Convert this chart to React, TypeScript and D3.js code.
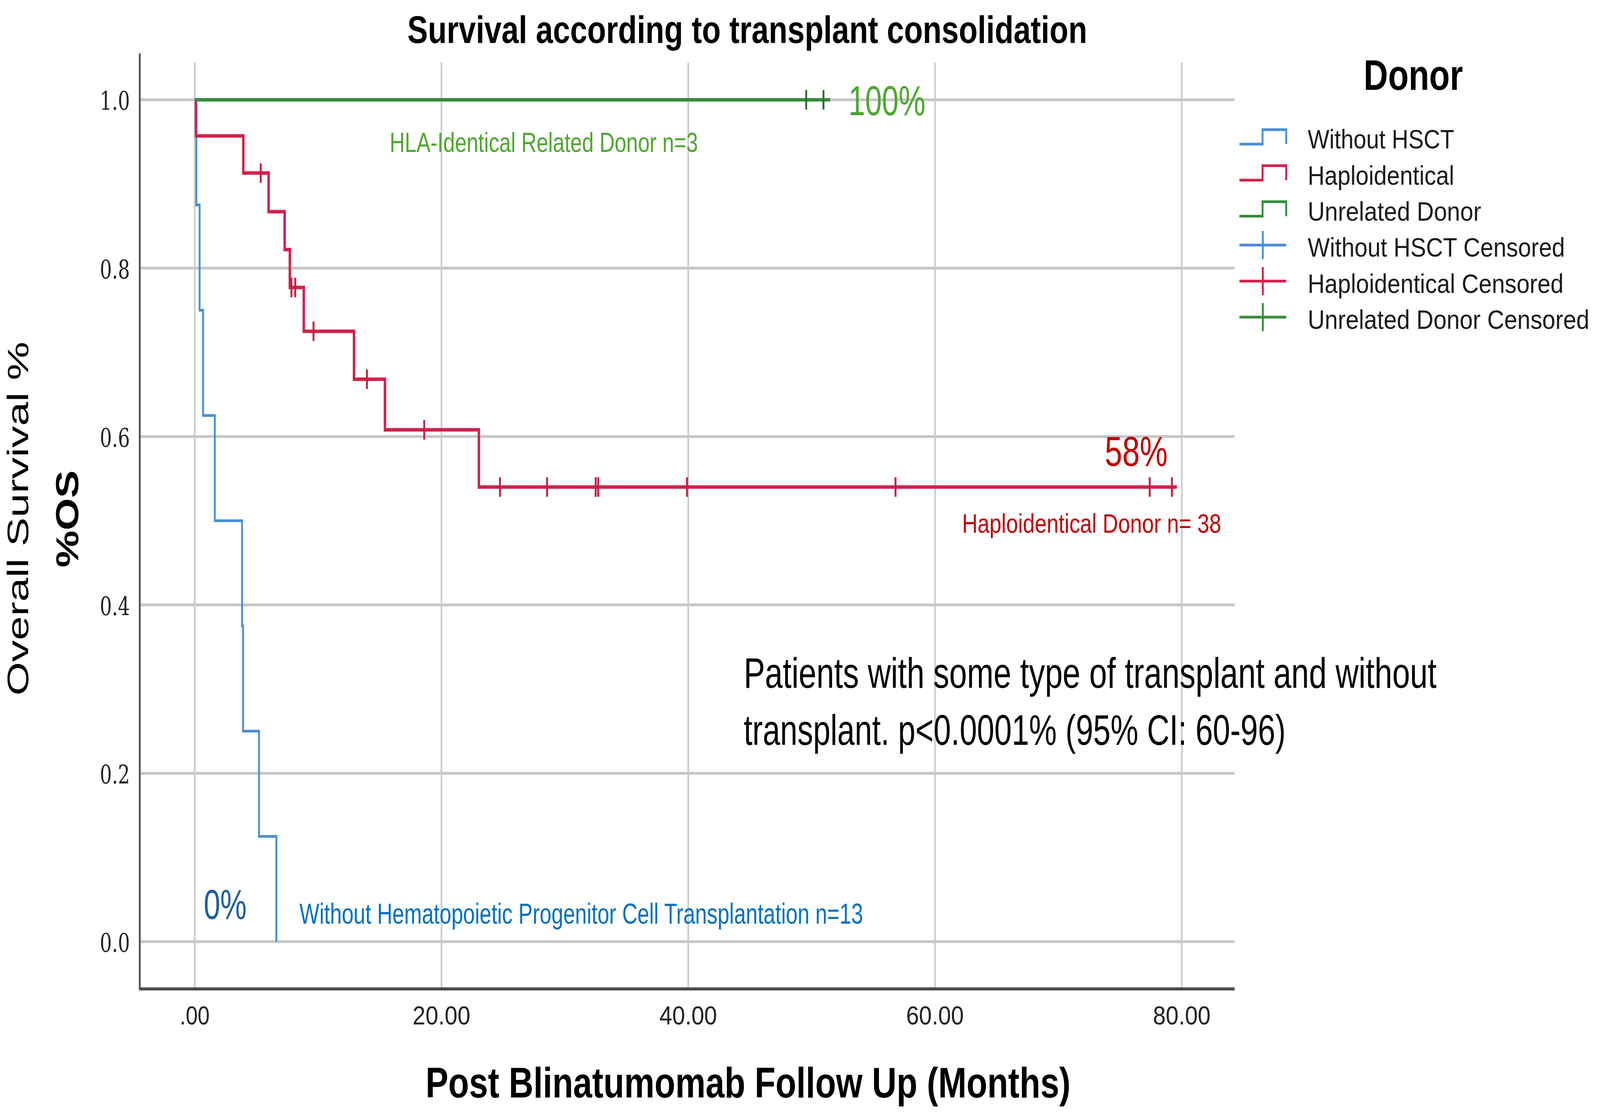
import React, { useRef, useEffect } from 'react';
import * as d3 from 'd3';

// axis ticks
const xTicks = [0, 20, 40, 60, 80];
const xTickLabels = ['.00', '20.00', '40.00', '60.00', '80.00'];
const yTicks = [0, 0.2, 0.4, 0.6, 0.8, 1.0];
const yTickLabels = ['0.0', '0.2', '0.4', '0.6', '0.8', '1.0'];

// Without HSCT (step points: time in months, survival)
const noHsctTimes = [0, 0.13, 0.40, 0.68, 1.63, 3.84, 3.92, 5.21, 6.62];
const noHsctSurv = [1, 0.875, 0.75, 0.625, 0.5, 0.375, 0.25, 0.125, 0];
const noHsctCensored: number[] = [];

// Haploidentical
const haploTimes = [0, 0.1, 3.94, 5.99, 7.29, 7.71, 8.84, 12.91, 15.42, 23.03, 79.6];
const haploSurv = [1, 0.957, 0.913, 0.867, 0.822, 0.777, 0.725, 0.668, 0.608, 0.54, 0.54];
const haploCensored = [5.35, 7.84, 8.15, 9.63, 13.96, 18.6, 24.74, 28.56, 32.5, 32.7, 39.9, 56.8, 77.4, 79.2];

// Unrelated donor
const unrelatedTimes = [0, 51.5];
const unrelatedSurv = [1, 1];
const unrelatedCensored = [49.56, 50.96];

const legendLabels = [
    'Without HSCT',
    'Haploidentical',
    'Unrelated Donor',
    'Without HSCT Censored',
    'Haploidentical Censored',
    'Unrelated Donor Censored',
];
const legendWidths = [539, 539, 638, 946, 941, 1036];

const BLUE = '#4a8fd6';
const RED = '#d3214c';
const GREEN = '#378c3d';

const SANS = '"Liberation Sans", Arial, sans-serif';

// the chart is laid out on a 5884 x 2860 canvas and stretched to the window
const W = 5884;
const H = 2860;

const App: React.FC = () => {
    const svgRef = useRef<SVGSVGElement | null>(null);

    useEffect(() => {
        if (!svgRef.current) return;
        const svg = d3.select(svgRef.current);
        svg.selectAll('*').remove();

        const axisLeft = 514;
        const axisBottom = 2532;
        const plotRight = 4540;
        const gridTop = 160;

        const x = d3.scaleLinear().domain([0, 80]).range([716, 4346]);
        const y = d3.scaleLinear().domain([0, 1]).range([2411, 255.4]);

        svg.append('rect').attr('width', W).attr('height', H).attr('fill', '#fff');

        // text helper, stretched to the measured width like the original
        const addText = (
            txt: string, tx: number, ty: number, size: number,
            opts: { weight?: string; fill?: string; family?: string; len?: number; rotate?: boolean } = {}
        ) => {
            const t = svg.append('text')
                .attr('font-family', opts.family || SANS)
                .attr('font-size', size)
                .attr('font-weight', opts.weight || 'normal')
                .attr('fill', opts.fill || '#000')
                .text(txt);
            if (opts.rotate) {
                t.attr('transform', `translate(${tx},${ty}) rotate(-90)`);
            } else {
                t.attr('x', tx).attr('y', ty);
            }
            if (opts.len) t.attr('textLength', opts.len).attr('lengthAdjust', 'spacingAndGlyphs');
            return t;
        };

        // grid
        svg.append('g').selectAll('line').data(yTicks).join('line')
            .attr('x1', axisLeft).attr('x2', plotRight)
            .attr('y1', d => y(d)).attr('y2', d => y(d))
            .attr('stroke', '#c6c6c6').attr('stroke-width', 7);
        svg.append('g').selectAll('line').data(xTicks).join('line')
            .attr('x1', d => x(d)).attr('x2', d => x(d))
            .attr('y1', gridTop).attr('y2', axisBottom)
            .attr('stroke', '#cbcbcb').attr('stroke-width', 6);

        // axes
        svg.append('line')
            .attr('x1', axisLeft).attr('x2', axisLeft).attr('y1', 137).attr('y2', axisBottom + 3)
            .attr('stroke', '#555').attr('stroke-width', 7);
        svg.append('line')
            .attr('x1', axisLeft).attr('x2', plotRight).attr('y1', axisBottom).attr('y2', axisBottom)
            .attr('stroke', '#4d4d4d').attr('stroke-width', 8);

        // tick labels
        yTicks.forEach((v, i) => {
            addText(yTickLabels[i], 367, y(v) + 26, 66, { family: '"DejaVu Serif", serif', fill: '#222', len: 111 });
        });
        xTicks.forEach((v, i) => {
            const w = i === 0 ? 110 : 212;
            addText(xTickLabels[i], x(v) - w / 2, 2623, 66, { fill: '#222', len: w });
        });

        // curves
        const line = d3.line<[number, number]>()
            .curve(d3.curveStepAfter)
            .x(d => x(d[0]))
            .y(d => y(d[1]));

        const series = [
            { times: noHsctTimes, surv: noHsctSurv, cens: noHsctCensored, color: BLUE, mark: BLUE, width: 7 },
            { times: haploTimes, surv: haploSurv, cens: haploCensored, color: RED, mark: '#c81c46', width: 9 },
            { times: unrelatedTimes, surv: unrelatedSurv, cens: unrelatedCensored, color: GREEN, mark: '#2b6f36', width: 9 },
        ];

        series.forEach(s => {
            svg.append('path')
                .attr('d', line(d3.zip(s.times, s.surv) as [number, number][]) as string)
                .attr('fill', 'none')
                .attr('stroke', s.color)
                .attr('stroke-width', s.width);
            const survAt = (t: number) => s.surv[Math.max(0, d3.bisectRight(s.times, t) - 1)];
            svg.append('g').selectAll('line').data(s.cens).join('line')
                .attr('x1', d => x(d)).attr('x2', d => x(d))
                .attr('y1', d => y(survAt(d)) - 25).attr('y2', d => y(survAt(d)) + 25)
                .attr('stroke', s.mark).attr('stroke-width', 7);
        });

        // titles
        addText('Survival according to transplant consolidation', 1498, 110, 98, { weight: 'bold', len: 2500 });
        addText('Post Blinatumomab Follow Up (Months)', 1565, 2810, 109, { weight: 'bold', len: 2372 });
        addText('Overall Survival %', 103, 1781, 108, { rotate: true, len: 906 });
        addText('%OS', 287, 1453, 116, { weight: 'bold', rotate: true, len: 249 });

        // legend
        addText('Donor', 5015, 230, 110, { weight: 'bold', len: 365 });
        const colors = [BLUE, RED, GREEN];
        legendLabels.forEach((lab, i) => {
            const c = 350.5 + 92.3 * i;
            const col = colors[i % 3];
            if (i < 3) {
                const lo = c + 18.5, hi = c - 18.5;
                svg.append('path')
                    .attr('d', `M4558,${lo}H4643V${hi}H4730V${lo}`)
                    .attr('fill', 'none').attr('stroke', col).attr('stroke-width', 7);
            } else {
                svg.append('path')
                    .attr('d', `M4558,${c}H4730M4644,${c - 36}V${c + 36}`)
                    .attr('fill', 'none').attr('stroke', col).attr('stroke-width', 7);
            }
            addText(lab, 4809, c + 30, 68, { fill: '#1a1a1a', len: legendWidths[i] });
        });

        // annotations
        addText('100%', 3120, 295, 107, { fill: '#4ea72e', len: 283 });
        addText('HLA-Identical Related Donor n=3', 1433, 389, 70, { fill: '#4ea72e', len: 1134 });
        addText('58%', 4063, 1193, 107, { fill: '#c00000', len: 231 });
        addText('Haploidentical Donor n= 38', 3538, 1364, 68, { fill: '#c00000', len: 953 });
        addText('0%', 749, 2353, 108, { fill: '#1f5f9f', len: 158 });
        addText('Without Hematopoietic Progenitor Cell Transplantation n=13', 1101, 2365, 74, { fill: '#0070c0', len: 2073 });
        addText('Patients with some type of transplant and without', 2735, 1761, 110, { len: 2548 });
        addText('transplant. p<0.0001% (95% CI: 60-96)', 2735, 1907, 110, { len: 1993 });
    }, []);

    return (
        <svg
            ref={svgRef}
            viewBox={`0 0 ${W} ${H}`}
            preserveAspectRatio="none"
            style={{ position: 'absolute', left: 0, top: 0, width: '100vw', height: '100vh', display: 'block' }}
        />
    );
};

export default App;
